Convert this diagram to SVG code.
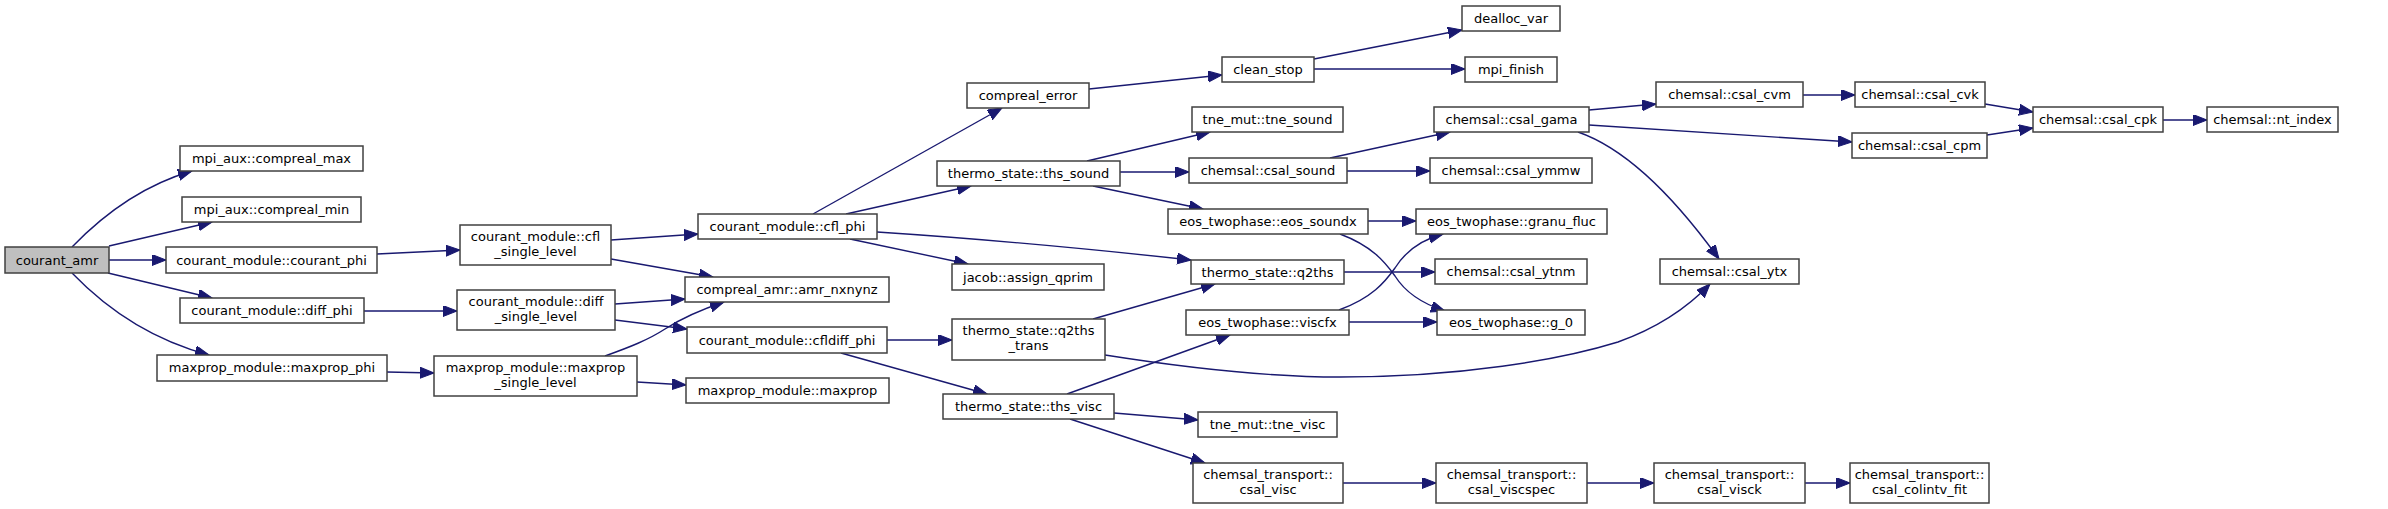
<svg xmlns="http://www.w3.org/2000/svg" width="2388" height="509" viewBox="0 0 2388 509">
<style>
.n rect{fill:#fff;stroke:#404040;stroke-width:1.5}
.n text{font-family:"DejaVu Sans",sans-serif;font-size:13px;fill:#000;text-anchor:middle}
.e path{fill:none;stroke:#191970;stroke-width:1.4;marker-end:url(#a)}
</style>
<defs>
<marker id="a" markerUnits="userSpaceOnUse" markerWidth="16" markerHeight="12" refX="14" refY="5.5" orient="auto">
<path d="M0,0 L14,5.5 L0,11 z" fill="#191970" stroke="#191970" stroke-width="1"/>
</marker>
</defs>
<rect width="2388" height="509" fill="#fff"/>
<g class="e">
<path d="M72,247 C100,218 140,186 192,171"/>
<path d="M109,246 L212,222"/>
<path d="M109,260 L166,260"/>
<path d="M108,273 L212,298"/>
<path d="M72,273 C100,302 145,338 209,355"/>
<path d="M377,254 L460,250"/>
<path d="M364,311 L457,311"/>
<path d="M387,372 L434,373"/>
<path d="M611,240 L698,234"/>
<path d="M611,259 L713,277"/>
<path d="M615,304 L685,299"/>
<path d="M615,320 L687,329"/>
<path d="M605,356 C630,347 648,340 665,329 C682,318 700,310 724,302"/>
<path d="M637,382 L686,385"/>
<path d="M813,214 L1002,108"/>
<path d="M846,214 L971,186"/>
<path d="M877,232 C1000,240 1100,250 1191,260"/>
<path d="M850,239 L968,264"/>
<path d="M1089,89 L1222,75"/>
<path d="M1314,59 L1462,30"/>
<path d="M1314,69 L1465,69"/>
<path d="M1087,161 L1210,132"/>
<path d="M1120,172 L1189,172"/>
<path d="M1093,186 L1203,209"/>
<path d="M1330,158 L1450,132"/>
<path d="M1347,171 L1430,171"/>
<path d="M1368,221 L1416,221"/>
<path d="M1340,234 C1372,246 1385,262 1395,276 C1405,292 1420,303 1445,311"/>
<path d="M1339,310 C1372,298 1385,282 1395,268 C1405,252 1420,240 1443,234"/>
<path d="M1349,322 L1437,322"/>
<path d="M1344,272 L1435,272"/>
<path d="M1093,319 L1215,284"/>
<path d="M1105,355 C1200,370 1280,377 1340,377 C1460,377 1560,360 1618,342 C1660,327 1690,305 1710,284"/>
<path d="M887,340 L952,340"/>
<path d="M841,353 L987,394"/>
<path d="M1067,394 L1230,335"/>
<path d="M1114,413 L1198,420"/>
<path d="M1070,419 L1205,463"/>
<path d="M1343,483 L1436,483"/>
<path d="M1587,483 L1654,483"/>
<path d="M1805,483 L1850,483"/>
<path d="M1589,110 L1656,104"/>
<path d="M1589,125 L1852,142"/>
<path d="M1578,132 C1630,150 1680,205 1719,259"/>
<path d="M1803,95 L1855,95"/>
<path d="M1985,104 L2033,112"/>
<path d="M1987,135 L2033,128"/>
<path d="M2163,120 L2207,120"/>
</g>
<g id="courant_amr" class="n"><rect x="5" y="247" width="104" height="26" style="fill:#bfbfbf"/><text x="57" y="264.5">courant_amr</text></g>
<g id="compreal_max" class="n"><rect x="180" y="146" width="183" height="25"/><text x="271.5" y="163">mpi_aux::compreal_max</text></g>
<g id="compreal_min" class="n"><rect x="182" y="197" width="179" height="25"/><text x="271.5" y="214">mpi_aux::compreal_min</text></g>
<g id="courant_phi" class="n"><rect x="166" y="247" width="211" height="26"/><text x="271.5" y="264.5">courant_module::courant_phi</text></g>
<g id="diff_phi" class="n"><rect x="180" y="298" width="184" height="25"/><text x="272" y="315">courant_module::diff_phi</text></g>
<g id="maxprop_phi" class="n"><rect x="157" y="355" width="230" height="26"/><text x="272" y="372">maxprop_module::maxprop_phi</text></g>
<g id="cfl_single_level" class="n"><rect x="460" y="225" width="151" height="40"/><text x="535.5" y="241">courant_module::cfl</text><text x="535.5" y="256">_single_level</text></g>
<g id="diff_single_level" class="n"><rect x="457" y="290" width="158" height="40"/><text x="536" y="306">courant_module::diff</text><text x="536" y="321">_single_level</text></g>
<g id="maxprop_single_level" class="n"><rect x="434" y="356" width="203" height="40"/><text x="535.5" y="372">maxprop_module::maxprop</text><text x="535.5" y="387">_single_level</text></g>
<g id="cfl_phi" class="n"><rect x="698" y="214" width="179" height="25"/><text x="787.5" y="231">courant_module::cfl_phi</text></g>
<g id="amr_nxnynz" class="n"><rect x="685" y="277" width="204" height="25"/><text x="787" y="294">compreal_amr::amr_nxnynz</text></g>
<g id="cfldiff_phi" class="n"><rect x="687" y="327" width="200" height="26"/><text x="787" y="344.5">courant_module::cfldiff_phi</text></g>
<g id="maxprop" class="n"><rect x="686" y="378" width="203" height="25"/><text x="787.5" y="395">maxprop_module::maxprop</text></g>
<g id="compreal_error" class="n"><rect x="967" y="83" width="122" height="25"/><text x="1028" y="100">compreal_error</text></g>
<g id="ths_sound" class="n"><rect x="937" y="161" width="183" height="25"/><text x="1028.5" y="178">thermo_state::ths_sound</text></g>
<g id="assign_qprim" class="n"><rect x="952" y="264" width="152" height="26"/><text x="1028" y="281.5">jacob::assign_qprim</text></g>
<g id="q2ths_trans" class="n"><rect x="952" y="319" width="153" height="41"/><text x="1028.5" y="335">thermo_state::q2ths</text><text x="1028.5" y="350">_trans</text></g>
<g id="ths_visc" class="n"><rect x="943" y="394" width="171" height="25"/><text x="1028.5" y="411">thermo_state::ths_visc</text></g>
<g id="clean_stop" class="n"><rect x="1222" y="57" width="92" height="25"/><text x="1268" y="74">clean_stop</text></g>
<g id="tne_sound" class="n"><rect x="1192" y="107" width="151" height="25"/><text x="1267.5" y="124">tne_mut::tne_sound</text></g>
<g id="csal_sound" class="n"><rect x="1189" y="158" width="158" height="25"/><text x="1268" y="175">chemsal::csal_sound</text></g>
<g id="eos_soundx" class="n"><rect x="1168" y="209" width="200" height="25"/><text x="1268" y="226">eos_twophase::eos_soundx</text></g>
<g id="q2ths" class="n"><rect x="1191" y="260" width="153" height="24"/><text x="1267.5" y="276.5">thermo_state::q2ths</text></g>
<g id="viscfx" class="n"><rect x="1186" y="310" width="163" height="25"/><text x="1267.5" y="327">eos_twophase::viscfx</text></g>
<g id="tne_visc" class="n"><rect x="1198" y="412" width="139" height="25"/><text x="1267.5" y="429">tne_mut::tne_visc</text></g>
<g id="csal_visc" class="n"><rect x="1193" y="463" width="150" height="40"/><text x="1268" y="479">chemsal_transport::</text><text x="1268" y="494">csal_visc</text></g>
<g id="dealloc_var" class="n"><rect x="1462" y="6" width="98" height="25"/><text x="1511" y="23">dealloc_var</text></g>
<g id="mpi_finish" class="n"><rect x="1465" y="57" width="92" height="25"/><text x="1511" y="74">mpi_finish</text></g>
<g id="csal_gama" class="n"><rect x="1434" y="107" width="155" height="25"/><text x="1511.5" y="124">chemsal::csal_gama</text></g>
<g id="csal_ymmw" class="n"><rect x="1430" y="158" width="162" height="25"/><text x="1511" y="175">chemsal::csal_ymmw</text></g>
<g id="granu_fluc" class="n"><rect x="1416" y="209" width="191" height="25"/><text x="1511.5" y="226">eos_twophase::granu_fluc</text></g>
<g id="csal_ytnm" class="n"><rect x="1435" y="259" width="152" height="25"/><text x="1511" y="276">chemsal::csal_ytnm</text></g>
<g id="g_0" class="n"><rect x="1437" y="310" width="148" height="25"/><text x="1511" y="327">eos_twophase::g_0</text></g>
<g id="csal_viscspec" class="n"><rect x="1436" y="463" width="151" height="40"/><text x="1511.5" y="479">chemsal_transport::</text><text x="1511.5" y="494">csal_viscspec</text></g>
<g id="csal_cvm" class="n"><rect x="1656" y="82" width="147" height="25"/><text x="1729.5" y="99">chemsal::csal_cvm</text></g>
<g id="csal_ytx" class="n"><rect x="1660" y="259" width="139" height="25"/><text x="1729.5" y="276">chemsal::csal_ytx</text></g>
<g id="csal_visck" class="n"><rect x="1654" y="463" width="151" height="40"/><text x="1729.5" y="479">chemsal_transport::</text><text x="1729.5" y="494">csal_visck</text></g>
<g id="csal_cvk" class="n"><rect x="1855" y="82" width="130" height="25"/><text x="1920" y="99">chemsal::csal_cvk</text></g>
<g id="csal_cpm" class="n"><rect x="1852" y="133" width="135" height="25"/><text x="1919.5" y="150">chemsal::csal_cpm</text></g>
<g id="csal_colintv_fit" class="n"><rect x="1850" y="463" width="139" height="40"/><text x="1919.5" y="479">chemsal_transport::</text><text x="1919.5" y="494">csal_colintv_fit</text></g>
<g id="csal_cpk" class="n"><rect x="2033" y="107" width="130" height="25"/><text x="2098" y="124">chemsal::csal_cpk</text></g>
<g id="nt_index" class="n"><rect x="2207" y="107" width="131" height="25"/><text x="2272.5" y="124">chemsal::nt_index</text></g>
</svg>
